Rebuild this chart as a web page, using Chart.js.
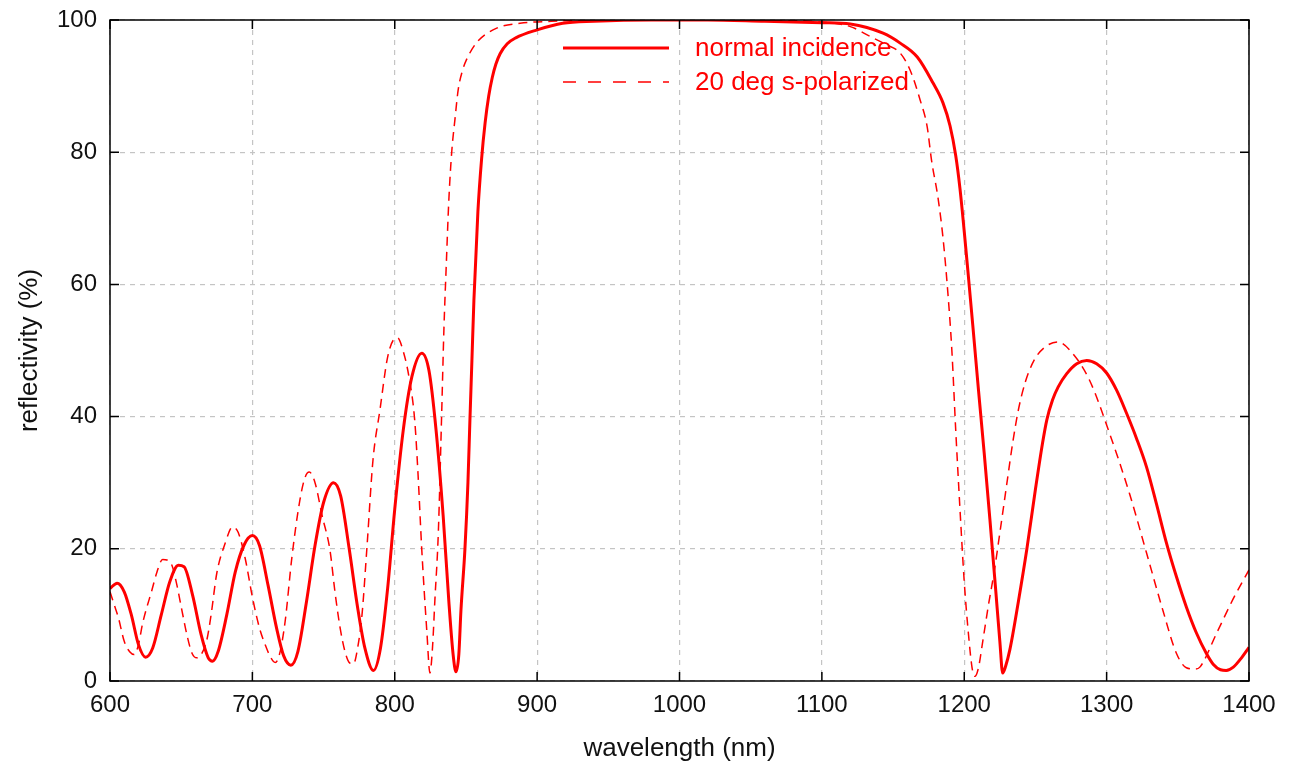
<!DOCTYPE html>
<html>
<head>
<meta charset="utf-8">
<script src="https://cdn.jsdelivr.net/npm/chart.js@4/dist/chart.umd.min.js"></script>
<style>
  html, body { margin: 0; padding: 0; background: #fff; }
  #wrap { width: 1294px; height: 762px; }
</style>
</head>
<body>
<div id="wrap"><canvas id="myChart" width="1294" height="762"></canvas></div>
<script>
// normal incidence (solid)
const normalWl = [600, 605, 610, 615, 620, 625, 630, 636, 642, 648, 652, 658, 664, 669, 672, 676, 682, 688, 694, 700,
  705, 711, 717, 722, 727, 732, 738, 744, 750, 757, 762, 768, 774, 779, 785, 790, 795, 800, 806, 812, 819, 824, 829,
  834, 838, 841, 843, 845, 846.5, 849.3, 851.4, 852.8, 854.2, 855.6, 858.4, 861, 863.5, 866, 868.5, 871, 874, 879,
  885, 900, 918, 940, 980, 1020, 1060, 1100, 1120, 1143, 1155, 1167, 1178, 1185, 1190, 1194, 1197, 1200, 1203, 1206,
  1210, 1214, 1218, 1222, 1225, 1227, 1229, 1232, 1238, 1244, 1250, 1255, 1258, 1262, 1266, 1272, 1279, 1286, 1293,
  1300, 1307, 1314, 1321, 1328, 1335, 1342, 1349, 1356, 1363, 1370, 1375, 1380, 1384, 1389, 1394, 1400];
const normalR = [14.0, 14.8, 13.5, 10, 5.5, 3.6, 5, 10, 15, 17.5, 17.3, 13, 7, 3.5, 3, 4.5, 10, 16.5, 20.5, 22,
  20.5, 14.5, 8, 3.8, 2.4, 4.5, 12, 20.5, 27, 30, 28, 20, 11, 5, 1.6, 5, 14, 26, 38, 46, 49.6, 47, 38,
  25, 12, 4, 1.4, 4, 10.7, 20, 30, 39.5, 48.5, 57.6, 71, 79, 84.5, 88.5, 91.3, 93.3, 94.9, 96.4,
  97.3, 98.5, 99.5, 99.8, 100, 100, 99.8, 99.6, 99.4, 98, 96.5, 94.4, 90.5, 87.5, 84, 79.5, 74.5, 68, 61, 53.8,
  44, 34.5, 24.5, 14, 6, 1.2, 2.2, 4.7, 12, 20, 29, 36, 39.5, 42.5, 44.5, 46.5, 48, 48.5, 48,
  46.6, 44, 40.5, 36.7, 32.4, 26.8, 20.9, 15.8, 11.2, 7.3, 4.2, 2.5, 1.7, 1.6, 2.1, 3.3, 5.1];

// 20 deg s-polarized (dashed)
const sPolWl = [600, 603, 606, 610, 614, 617, 620, 623, 629.5, 633, 637, 640, 643.5, 647, 650.5, 654, 657.6, 661, 664,
  668, 671, 675, 681, 686, 690, 695, 700, 705, 709, 713, 716, 719, 723, 727.8, 733.4, 737, 740, 744, 749, 754.5, 758,
  761.5, 765, 768.5, 771, 774, 777, 780.5, 784.7, 789.6, 795, 800, 802, 805.8, 810, 814, 816.3, 819, 822.6, 824.7,
  826.5, 828.2, 830.6, 832.9, 834.5, 836.2, 838, 840, 842.3, 844.6, 847.5, 850.4, 858, 872, 888, 910, 950, 1050, 1100,
  1120, 1134, 1145, 1155, 1162, 1169, 1174, 1177, 1181.5, 1185, 1188.5, 1191.3, 1194, 1197, 1200, 1203, 1205.5,
  1207.5, 1210, 1213, 1217, 1221, 1225, 1230, 1234, 1238, 1243, 1249, 1256, 1265.7, 1276, 1288, 1302, 1316, 1328,
  1339.5, 1349, 1356, 1362, 1365.5, 1377.4, 1388.6, 1400];
const sPolR = [13.5, 11.5, 9.5, 6, 4.4, 4, 5.5, 8.8, 13.8, 16.5, 18.4, 18.3, 17.5, 14.5, 10.7, 7, 4.2, 3.5, 4,
  6.2, 10, 16.3, 20.9, 23.3, 22.5, 18.5, 12.7, 8, 5.5, 3.5, 2.8, 4, 9, 18.8, 27.4, 30.8, 31.6, 30, 25, 19.8, 13.5,
  8.2, 4.5, 2.7, 2.6, 5.1, 10, 20.3, 33.4, 41, 49, 51.8, 51.9, 50, 46, 39.5, 31.5, 19.8, 7.3, 1.2,
  5, 12.3, 22.4, 40, 53, 63, 72.8, 80, 85, 89.5, 92.3, 94, 96.7, 98.8, 99.5, 99.8, 100, 100, 99.7,
  99, 97.5, 96.3, 95, 92.4, 87.9, 83.8, 78.8, 73.2, 67.2, 58.7, 50, 38, 26, 15, 7, 2,
  0.7, 2, 6, 11.5, 16.5, 22.4, 30, 36, 41, 45.3, 48.5, 50.4, 51.3, 49.6, 45.5, 37.5, 28.4, 19.4,
  10.7, 4.2, 2, 1.8, 2.1, 7.3, 12.3, 16.8];

const seriesNames = ['normal incidence', '20 deg s-polarized'];
const xTicks = [600, 700, 800, 900, 1000, 1100, 1200, 1300, 1400];
const yTicks = [0, 20, 40, 60, 80, 100];

const toPoints = (xs, ys) => xs.map((x, i) => ({ x: x, y: ys[i] }));

const FONT = "'Liberation Sans', Arial, sans-serif";
const TEXT = '#111111';

// frame, inward tick marks and the in-plot legend
const framePlugin = {
  id: 'frame',
  afterDraw(chart) {
    const { ctx, chartArea: a, scales } = chart;
    ctx.save();
    ctx.strokeStyle = '#000';
    ctx.lineWidth = 1.5;
    ctx.strokeRect(a.left, a.top, a.right - a.left, a.bottom - a.top);
    ctx.beginPath();
    xTicks.forEach(v => {
      const px = scales.x.getPixelForValue(v);
      ctx.moveTo(px, a.bottom); ctx.lineTo(px, a.bottom - 9);
      ctx.moveTo(px, a.top); ctx.lineTo(px, a.top + 9);
    });
    yTicks.forEach(v => {
      const py = scales.y.getPixelForValue(v);
      ctx.moveTo(a.left, py); ctx.lineTo(a.left + 9, py);
      ctx.moveTo(a.right, py); ctx.lineTo(a.right - 9, py);
    });
    ctx.stroke();

    // legend
    const lx = a.left + 453, ly = a.top + 28;
    ctx.strokeStyle = '#ff0000';
    ctx.lineWidth = 3;
    ctx.beginPath(); ctx.moveTo(lx, ly); ctx.lineTo(lx + 106, ly); ctx.stroke();
    ctx.lineWidth = 1.5;
    ctx.setLineDash([13, 12]);
    ctx.beginPath(); ctx.moveTo(lx, ly + 34); ctx.lineTo(lx + 106, ly + 34); ctx.stroke();
    ctx.setLineDash([]);
    ctx.fillStyle = '#ff0000';
    ctx.font = '26px ' + FONT;
    ctx.textBaseline = 'middle';
    ctx.textAlign = 'left';
    ctx.fillText(seriesNames[0], lx + 132, ly + 1);
    ctx.fillText(seriesNames[1], lx + 132, ly + 35);
    ctx.restore();
  }
};

const ctx = document.getElementById('myChart');
const myChart = new Chart(ctx, {
  type: 'line',
  data: {
    datasets: [
      {
        label: seriesNames[0],
        data: toPoints(normalWl, normalR),
        borderColor: '#ff0000',
        borderWidth: 3,
        pointRadius: 0,
        cubicInterpolationMode: 'monotone',
        fill: false
      },
      {
        label: seriesNames[1],
        data: toPoints(sPolWl, sPolR),
        borderColor: '#ff0000',
        borderWidth: 1.5,
        borderDash: [9, 6],
        pointRadius: 0,
        cubicInterpolationMode: 'monotone',
        fill: false
      }
    ]
  },
  options: {
    responsive: false,
    animation: false,
    layout: { padding: { top: 20, right: 45, left: 0, bottom: 0 } },
    plugins: {
      legend: { display: false },
      tooltip: { enabled: false }
    },
    scales: {
      x: {
        type: 'linear',
        min: 600,
        max: 1400,
        afterBuildTicks: (scale) => { scale.ticks = xTicks.map(v => ({ value: v })); },
        afterFit: (scale) => { scale.height = 81; scale.paddingLeft = 0; scale.paddingRight = 0; },
        grid: { color: '#c4c4c4', lineWidth: 1.2, drawTicks: false },
        border: { display: false, dash: [5, 5] },
        ticks: {
          color: TEXT, padding: 10, maxRotation: 0,
          font: { family: FONT, size: 24 },
          callback: (v) => String(v)
        },
        title: {
          display: true,
          text: 'wavelength (nm)',
          color: TEXT,
          font: { family: FONT, size: 26 },
          padding: { top: 0, bottom: -2 }
        }
      },
      y: {
        min: 0,
        max: 100,
        afterBuildTicks: (scale) => { scale.ticks = yTicks.map(v => ({ value: v })); },
        afterFit: (scale) => { scale.width = 110; scale.paddingTop = 0; scale.paddingBottom = 0; },
        grid: { color: '#c4c4c4', lineWidth: 1.2, drawTicks: false },
        border: { display: false, dash: [5, 5] },
        ticks: {
          color: TEXT, padding: 13,
          font: { family: FONT, size: 24 },
          callback: (v) => String(v)
        },
        title: {
          display: true,
          text: 'reflectivity (%)',
          color: TEXT,
          font: { family: FONT, size: 26 },
          padding: { top: 14, bottom: 0 }
        }
      }
    }
  },
  plugins: [framePlugin]
});
</script>
</body>
</html>
